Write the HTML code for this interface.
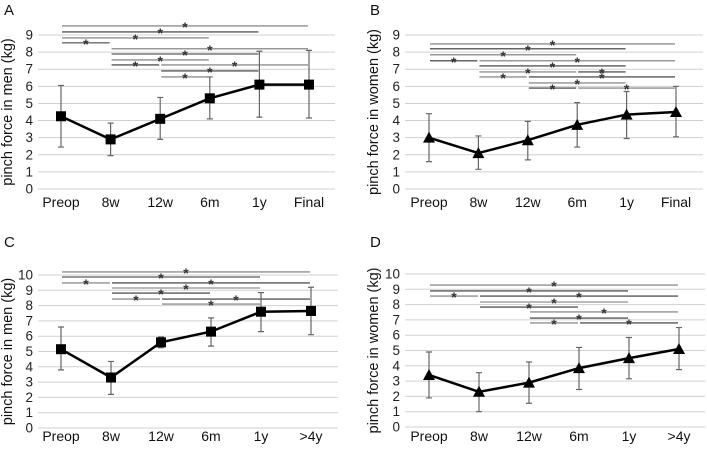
<!DOCTYPE html>
<html><head><meta charset="utf-8"><style>
body{margin:0;background:#fff;}
svg{display:block;font-family:"Liberation Sans",Arial,sans-serif;}
</style></head><body>
<svg id="c" width="707" height="449"></svg>
<script>
const categoriesAB=["Preop","8w","12w","6m","1y","Final"];
const categoriesCD=["Preop","8w","12w","6m","1y",">4y"];
const meanA=[4.25,2.9,4.1,5.3,6.1,6.1];
const lowA=[2.45,1.95,2.9,4.1,4.2,4.15];
const highA=[6.05,3.85,5.35,6.55,8.05,8.1];
const meanB=[3.0,2.1,2.85,3.75,4.35,4.5];
const lowB=[1.6,1.15,1.7,2.45,2.95,3.05];
const highB=[4.4,3.1,3.95,5.05,5.7,6.0];
const meanC=[5.15,3.3,5.6,6.3,7.6,7.65];
const lowC=[3.8,2.2,5.25,5.35,6.3,6.1];
const highC=[6.6,4.35,5.95,7.2,8.85,9.2];
const meanD=[3.4,2.3,2.9,3.85,4.5,5.1];
const lowD=[1.9,1.0,1.55,2.45,3.15,3.75];
const highD=[4.9,3.55,4.25,5.2,5.85,6.5];
const sigA=[[0,5,9.53],[0,4,9.18],[0,3,8.83],[0,1,8.54],[1,5,8.19],[1,4,7.89],[1,3,7.54],[1,2,7.25],[2,5,7.25],[2,4,6.9],[2,3,6.55]];
const sigB=[[0,5,8.48],[0,4,8.19],[0,3,7.84],[0,1,7.49],[1,5,7.49],[1,4,7.19],[1,3,6.84],[3,4,6.84],[1,2,6.55],[2,5,6.55],[2,4,6.2],[2,3,5.9],[3,5,5.9]];
const sigC=[[0,5,10.2],[0,4,9.87],[0,1,9.48],[1,5,9.48],[1,4,9.15],[1,3,8.82],[1,2,8.43],[2,5,8.43],[2,4,8.1]];
const sigD=[[0,5,9.28],[0,4,8.89],[0,1,8.56],[1,5,8.56],[1,4,8.17],[1,3,7.84],[2,5,7.52],[2,4,7.12],[2,3,6.8],[3,5,6.8]];
const ticksAB=[0,1,2,3,4,5,6,7,8,9];
const ticksCD=[0,1,2,3,4,5,6,7,8,9,10];

const NS="http://www.w3.org/2000/svg";
const svg=document.getElementById('c');
function el(t,a,p){const e=document.createElementNS(NS,t);for(const k in a)e.setAttribute(k,a[k]);(p||svg).appendChild(e);return e;}

function panel(o){
  const g=el('g',{});
  
  
  const ys=v=>o.y0-(o.y0-o.yTop)*v/o.ymax;
  const xs=i=>o.x0+i*(o.x5-o.x0)/5;
  const L=el('text',{x:o.lx,y:o.ly,'font-size':15,fill:'#111'},g);L.textContent=o.letter;
  
  
  o.ticks.forEach(t=>{
    const gl=el('line',{x1:o.gx1,x2:o.gx2,y1:ys(t),y2:ys(t),stroke:'#d0d0d0','stroke-width':1},g);
    
    
    const tx=el('text',{x:o.gx1-5,y:ys(t)+4.5,'font-size':13.5,'text-anchor':'end',fill:'#222'},g);tx.textContent=t;
    
    
  });
  o.cats.forEach((c,i)=>{
    const tx=el('text',{x:xs(i),y:o.y0+o.xoff,'font-size':14,'text-anchor':'middle',fill:'#111'},g);tx.textContent=c;
    
    
  });
  const yt=el('text',{x:0,y:0,'font-size':14.5,'text-anchor':'middle',fill:'#111',transform:`translate(${o.tx},${(o.y0+o.yTop)/2}) rotate(-90)`},g);
  yt.textContent=o.title;
  
  
  o.sig.forEach((s,k)=>{
    const y=ys(s[2]);
    const ln=el('line',{x1:xs(s[0])+1,x2:xs(s[1])-1,y1:y,y2:y,stroke:k%2?'#333':'#777','stroke-width':1.1},g);
    
    
    const st=el('text',{x:(xs(s[0])+xs(s[1]))/2,y:y+6,'font-size':14,'font-weight':'bold','text-anchor':'middle',fill:'#333'},g);st.textContent='*';
    
    
  });
  o.mean.forEach((m,i)=>{
    const x=xs(i);
    const eb=el('path',{d:`M${x},${ys(o.low[i])}V${ys(o.high[i])}M${x-3},${ys(o.low[i])}h6M${x-3},${ys(o.high[i])}h6`,stroke:'#666','stroke-width':1.2,fill:'none'},g);
    
    
  });
  const ln=el('polyline',{points:o.mean.map((m,i)=>xs(i)+','+ys(m)).join(' '),fill:'none',stroke:'#000','stroke-width':2.5},g);
  
  
  o.mean.forEach((m,i)=>{
    const x=xs(i),y=ys(m);let mk;
    if(o.shape==='sq') mk=el('rect',{x:x-5,y:y-5,width:10,height:10,fill:'#000'},g);
    else mk=el('path',{d:`M${x},${y-6}L${x+6},${y+5}L${x-6},${y+5}Z`,fill:'#000'},g);
    
    
  });
}
panel({letter:'A',lx:4,ly:15,cats:categoriesAB,mean:meanA,low:lowA,high:highA,sig:sigA,ticks:ticksAB,ymax:9,y0:189,yTop:35,x0:61,x5:309,gx1:38,gx2:335,tx:12,xoff:18,title:'pinch force in men (kg)',shape:'sq'});
panel({letter:'B',lx:370,ly:15,cats:categoriesAB,mean:meanB,low:lowB,high:highB,sig:sigB,ticks:ticksAB,ymax:9,y0:189,yTop:35,x0:429,x5:676,gx1:405,gx2:703,tx:378,xoff:18,title:'pinch force in women (kg)',shape:'tri'});
panel({letter:'C',lx:4,ly:247,cats:categoriesCD,mean:meanC,low:lowC,high:highC,sig:sigC,ticks:ticksCD,ymax:10,y0:428,yTop:275,x0:61,x5:311,gx1:38,gx2:338,tx:12,xoff:13,title:'pinch force in men (kg)',shape:'sq'});
panel({letter:'D',lx:370,ly:247,cats:categoriesCD,mean:meanD,low:lowD,high:highD,sig:sigD,ticks:ticksCD,ymax:10,y0:427,yTop:274,x0:429,x5:679,gx1:405,gx2:705,tx:378,xoff:14,title:'pinch force in women (kg)',shape:'tri'});
</script>
</body></html>
